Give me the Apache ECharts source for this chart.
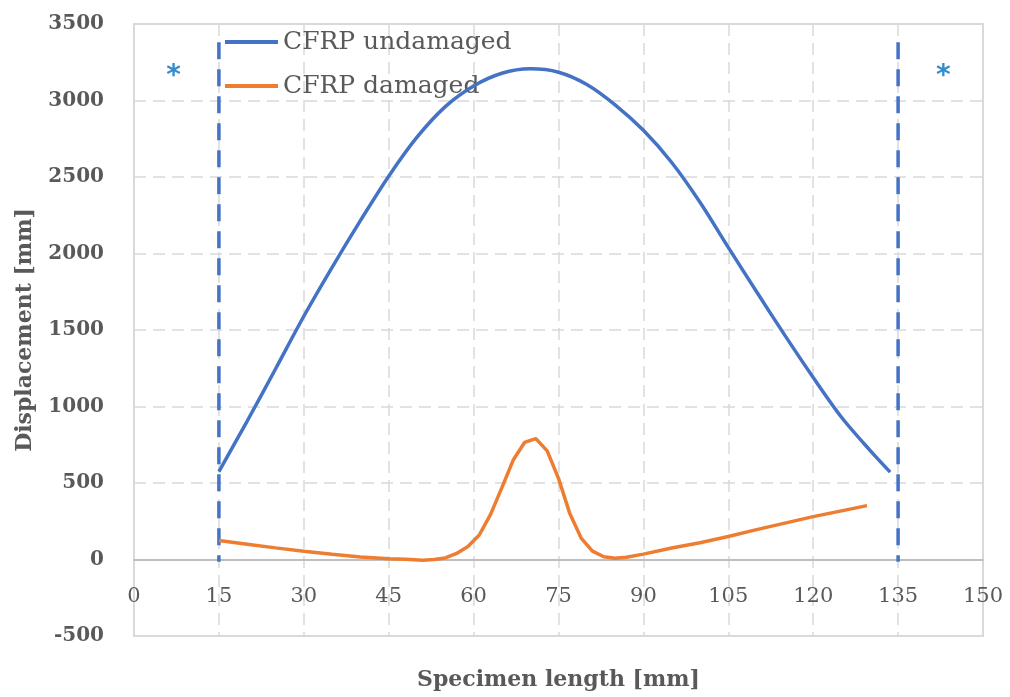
<!DOCTYPE html>
<html>
<head>
<meta charset="utf-8">
<script src="https://cdn.jsdelivr.net/npm/echarts@6/dist/echarts.min.js"></script>
<style>
  html, body { margin: 0; padding: 0; background: #fff; }
  #chart { width: 1010px; height: 697px; }
</style>
</head>
<body>
<div id="chart"></div>
<script>
// Blue: undamaged specimen (x in mm, displacement)
const undamagedX = [15, 20, 25, 30, 35, 40, 45, 50, 55, 60, 65, 70, 75, 80, 85, 90, 95, 100, 105, 110, 115, 120, 125, 130, 133.6]
const undamagedY = [575, 905, 1245, 1590, 1910, 2215, 2505, 2760, 2960, 3095, 3178, 3207, 3185, 3105, 2972, 2805, 2595, 2335, 2040, 1750, 1465, 1190, 930, 715, 571]

// Orange: damaged specimen
const damagedX = [15, 20, 25, 30, 35, 40, 45, 48, 51, 53, 55, 57, 59, 61, 63, 65, 67, 69, 71, 73, 75, 77, 79, 81, 83, 85, 87, 90, 95, 100, 105, 110, 115, 120, 125, 129.5]
const damagedY = [124, 100, 76, 54, 34, 17, 5, 2, -5, 0, 10, 40, 85, 160, 295, 470, 650, 765, 790, 710, 530, 300, 140, 55, 18, 8, 15, 35, 75, 110, 150, 195, 238, 280, 318, 352]

// support positions (dashed verticals) and their markers
const supports = [15, 135]
const supportTop = 3380
const supportBottom = -15
const starX = [7, 143]
const starY = 3190

const xTicks = { min: 0, max: 150, interval: 15 }
const yTicks = { min: -500, max: 3500, interval: 500 }

const pairs = (xs, ys) => xs.map((x, i) => [x, ys[i]])

const chart = echarts.init(document.getElementById('chart'))
const textColor = '#595959'
const serif = 'DejaVu Serif'
const gridLine = { show: true, lineStyle: { color: '#D9D9D9', width: 1.5, type: [12, 7] } }

// plot box: top 24, bottom 636 -> y = 0 sits 76.5 px above the bottom edge
const gridTop = 24
const gridBottom = 61
const zeroOffset = (697 - gridTop - gridBottom) * (0 - yTicks.min) / (yTicks.max - yTicks.min)

let series = [
  {
    name: 'CFRP undamaged',
    type: 'line',
    data: pairs(undamagedX, undamagedY),
    smooth: 0.3,
    symbol: 'none',
    lineStyle: { color: '#4472C4', width: 3.5 },
    itemStyle: { color: '#4472C4' },
    z: 4
  },
  {
    name: 'CFRP damaged',
    type: 'line',
    data: pairs(damagedX, damagedY),
    symbol: 'none',
    lineStyle: { color: '#ED7D31', width: 3.5 },
    itemStyle: { color: '#ED7D31' },
    z: 4
  }
]

supports.forEach(function (s) {
  series.push({
    type: 'line',
    data: [[s, supportTop], [s, supportBottom]],
    symbol: 'none',
    lineStyle: { color: '#4472C4', width: 3.5, type: [17, 10] },
    z: 3
  })
})

series.push({
  type: 'scatter',
  data: starX.map(x => [x, starY]),
  symbolSize: 0,
  label: {
    show: true,
    position: 'inside',
    formatter: '*',
    color: '#0070C0',
    fontSize: 28,
    fontWeight: 'bold',
    fontFamily: 'DejaVu Sans',
    offset: [0, 5]
  },
  z: 5
})

let option = {
  animation: false,
  backgroundColor: '#fff',
  grid: {
    left: 134, right: 27, top: gridTop, bottom: gridBottom,
    outerBoundsMode: 'none',
    containLabel: false,
    show: true, borderColor: '#D9D9D9', borderWidth: 2
  },
  legend: {
    data: ['CFRP undamaged', 'CFRP damaged'],
    orient: 'vertical',
    left: 225,
    top: 27,
    padding: 0,
    icon: 'rect',
    itemWidth: 53,
    itemHeight: 4,
    itemGap: 14,
    textStyle: { fontFamily: serif, fontSize: 25, color: textColor, lineHeight: 30 }
  },
  xAxis: {
    type: 'value',
    min: xTicks.min, max: xTicks.max, interval: xTicks.interval,
    offset: -zeroOffset,
    name: 'Specimen length [mm]',
    nameLocation: 'middle',
    nameGap: 110,
    nameTextStyle: { fontFamily: serif, fontSize: 22, fontWeight: 'bold', color: textColor },
    axisLine: { onZero: false, lineStyle: { color: '#BFBFBF', width: 2 } },
    axisTick: { show: false },
    axisLabel: { fontFamily: serif, fontSize: 21, color: textColor, margin: 27, formatter: v => String(v) },
    splitLine: gridLine
  },
  yAxis: {
    type: 'value',
    min: yTicks.min, max: yTicks.max, interval: yTicks.interval,
    name: 'Displacement [mm]',
    nameLocation: 'middle',
    nameGap: 98,
    nameTextStyle: { fontFamily: serif, fontSize: 22, fontWeight: 'bold', color: textColor },
    axisLine: { show: false },
    axisTick: { show: false },
    axisLabel: { fontFamily: serif, fontSize: 20, fontWeight: 'bold', color: textColor, margin: 30, formatter: v => String(v) },
    splitLine: gridLine
  },
  series: series
}

chart.setOption(option)
</script>
</body>
</html>
